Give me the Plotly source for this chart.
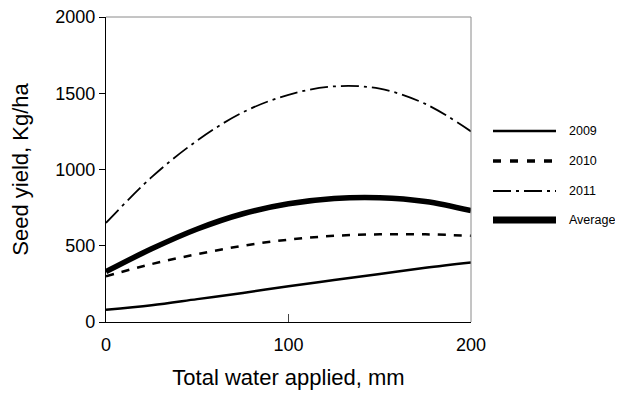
import plotly.graph_objects as go

water_mm = [0, 25, 50, 75, 100, 125, 150, 175, 200]
yield_2009 = [80, 110, 150, 190, 235, 275, 315, 355, 390]
yield_2010 = [300, 380, 445, 500, 540, 565, 575, 575, 565]
yield_2011 = [650, 950, 1190, 1375, 1490, 1545, 1530, 1430, 1250]
yield_avg = [330, 480, 610, 710, 775, 810, 815, 790, 730]

series_names = ["2009", "2010", "2011", "Average"]
series_values = [yield_2009, yield_2010, yield_2011, yield_avg]
styles = [
    dict(width=2.5, dash="solid"),
    dict(width=2.5, dash="8px,8px"),
    dict(width=1.8, dash="18px,5px,3px,5px"),
    dict(width=5.5, dash="solid"),
]
legend_dash = ["solid", "8px,9px", "18px,5px,3px,5px", "solid"]
legend_width = [2.5, 3.5, 1.8, 7]

x_ticks = [0, 100, 200]
y_ticks = [0, 500, 1000, 1500, 2000]

FONT = "Arial, Liberation Sans, sans-serif"

fig = go.Figure()
for name, vals, st in zip(series_names, series_values, styles):
    fig.add_trace(go.Scatter(
        x=water_mm, y=vals, name=name, mode="lines",
        line=dict(color="black", width=st["width"], dash=st["dash"],
                  shape="spline", smoothing=1.0),
        showlegend=False,
    ))

# page body has an 8px default margin, so the figure is slightly smaller
OFF = 8
W, H = 623 - OFF, 393 - OFF
ml, mr, mt, mb = 106 - OFF, 152, 17 - OFF, 71
pw = W - ml - mr
ph = H - mt - mb

def px2paper_x(px):
    return (px - OFF - ml) / pw

def px2paper_y(py):
    return (H - mb - (py - OFF)) / ph

shapes = [
    dict(type="line", xref="paper", yref="paper", x0=0, y0=1, x1=1, y1=1,
         line=dict(color="#8a8a8a", width=1), layer="above"),
    dict(type="line", xref="paper", yref="paper", x0=1, y0=0, x1=1, y1=1,
         line=dict(color="#8a8a8a", width=1), layer="above"),
]
annotations = []
legend_y_px = [131, 161, 191, 220]
for name, py, dsh, w in zip(series_names, legend_y_px, legend_dash, legend_width):
    shapes.append(dict(type="line", xref="paper", yref="paper",
                       x0=px2paper_x(493), x1=px2paper_x(556),
                       y0=px2paper_y(py), y1=px2paper_y(py),
                       line=dict(color="black", width=w, dash=dsh)))
    annotations.append(dict(xref="paper", yref="paper", x=px2paper_x(567),
                            y=px2paper_y(py), text=name, showarrow=False,
                            xanchor="left", yanchor="middle",
                            font=dict(family=FONT, size=12.5, color="black")))

fig.update_layout(
    width=W, height=H,
    margin=dict(l=ml, r=mr, t=mt, b=mb, autoexpand=False),
    paper_bgcolor="white", plot_bgcolor="white",
    font=dict(family=FONT, color="black"),
    shapes=shapes, annotations=annotations,
    xaxis=dict(range=[0, 200], tickvals=x_ticks, ticks="inside", ticklen=8,
               tickcolor="#444", showgrid=False, zeroline=False,
               showline=True, linecolor="black", linewidth=1.2,
               automargin=False, ticklabelstandoff=6,
               ticklabeloverflow="allow",
               tickfont=dict(size=18, family=FONT, color="black"),
               title=dict(text="Total water applied, mm",
                          font=dict(size=22, family=FONT, color="black"),
                          standoff=15)),
    yaxis=dict(range=[0, 2000], tickvals=y_ticks, ticks="outside", ticklen=6,
               tickcolor="black", showgrid=False, zeroline=False,
               showline=True, linecolor="black", linewidth=1.2,
               automargin=False, ticklabeloverflow="allow",
               tickfont=dict(size=18, family=FONT, color="black"),
               title=dict(text="Seed yield, Kg/ha",
                          font=dict(size=22, family=FONT, color="black"),
                          standoff=22)),
)

fig.write_html("out.html")
